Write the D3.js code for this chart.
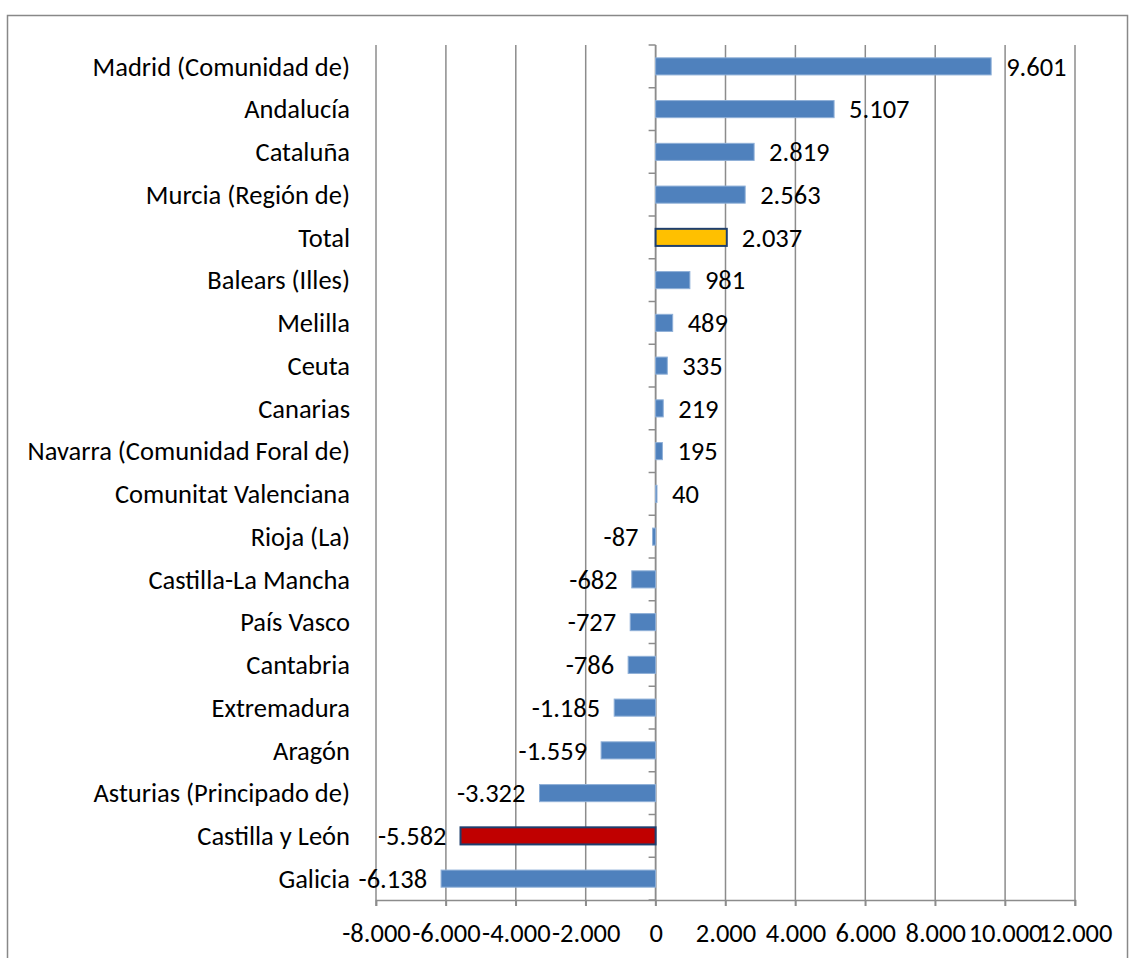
<!DOCTYPE html>
<html>
<head>
<meta charset="utf-8">
<script src="https://cdn.jsdelivr.net/npm/d3@7"></script>
<style>
  body { margin: 0; background: #fff; }
  text { font-family: Carlito, Lato, "Open Sans", sans-serif; fill: #000; }
</style>
</head>
<body>
<div class="canvas"></div>
<script>
const regions = [
  'Madrid (Comunidad de)', 'Andalucía', 'Cataluña', 'Murcia (Región de)', 'Total',
  'Balears (Illes)', 'Melilla', 'Ceuta', 'Canarias', 'Navarra (Comunidad Foral de)',
  'Comunitat Valenciana', 'Rioja (La)', 'Castilla-La Mancha', 'País Vasco', 'Cantabria',
  'Extremadura', 'Aragón', 'Asturias (Principado de)', 'Castilla y León', 'Galicia'
];
const values = [
  9601, 5107, 2819, 2563, 2037,
  981, 489, 335, 219, 195,
  40, -87, -682, -727, -786,
  -1185, -1559, -3322, -5582, -6138
];
const ticks = [-8000, -6000, -4000, -2000, 0, 2000, 4000, 6000, 8000, 10000, 12000];

const dims = { width: 1129, height: 958 };
const plot = { left: 376, right: 1075, top: 45, bottom: 900 };
const fontSize = '26.5px';

const svg = d3
  .select('.canvas')
  .append('svg')
  .attr('width', dims.width)
  .attr('height', dims.height);

// chart border
svg
  .append('rect')
  .attr('x', 7.5)
  .attr('y', 15.5)
  .attr('width', 1120)
  .attr('height', 960)
  .attr('fill', 'none')
  .attr('stroke', '#888')
  .attr('stroke-width', 1.5);

const x = d3.scaleLinear().domain([-8000, 12000]).range([plot.left, plot.right]);
const y = d3
  .scaleBand()
  .domain(regions)
  .range([plot.top, plot.bottom])
  .paddingInner(0.6)
  .paddingOuter(0.3);

const fmt = (v) => d3.format(',')(v).replace(/,/g, '.').replace('−', '-');

// vertical gridlines
svg
  .append('g')
  .selectAll('line')
  .data(ticks)
  .enter()
  .append('line')
  .attr('x1', (d) => x(d))
  .attr('x2', (d) => x(d))
  .attr('y1', plot.top)
  .attr('y2', plot.bottom + 6)
  .attr('stroke', '#8c8c8c')
  .attr('stroke-width', 1.5);

// bottom axis
const xAxis = svg
  .append('g')
  .attr('transform', `translate(0, ${plot.bottom})`)
  .call(d3.axisBottom(x).tickValues(ticks).tickSize(6).tickFormat(fmt));
xAxis.select('.domain').attr('stroke', '#8c8c8c').attr('stroke-width', 1.5);
xAxis.selectAll('.tick line').attr('stroke', '#8c8c8c').attr('stroke-width', 1.5);
xAxis
  .selectAll('.tick text')
  .attr('y', 23)
  .attr('dy', '0.71em')
  .style('font-size', fontSize)
  .style('font-family', 'Carlito, Lato, "Open Sans", sans-serif')
  .attr('fill', '#000');

// zero axis with category ticks
const bounds = d3.range(regions.length + 1).map((i) => plot.top + i * (plot.bottom - plot.top) / regions.length);
svg
  .append('line')
  .attr('x1', x(0))
  .attr('x2', x(0))
  .attr('y1', plot.top)
  .attr('y2', plot.bottom)
  .attr('stroke', '#8c8c8c')
  .attr('stroke-width', 1.5);
svg
  .append('g')
  .selectAll('line')
  .data(bounds)
  .enter()
  .append('line')
  .attr('x1', x(0) - 7)
  .attr('x2', x(0))
  .attr('y1', (d) => d)
  .attr('y2', (d) => d)
  .attr('stroke', '#8c8c8c')
  .attr('stroke-width', 1.5);

// category labels
svg
  .append('g')
  .selectAll('text')
  .data(regions)
  .enter()
  .append('text')
  .attr('x', 350)
  .attr('y', (d) => y(d) + y.bandwidth() / 2)
  .attr('dy', '0.35em')
  .attr('text-anchor', 'end')
  .style('font-size', fontSize)
  .text((d) => d);

const special = (name) => name === 'Total' || name === 'Castilla y León';
const fillOf = (name) => (name === 'Total' ? '#ffc000' : name === 'Castilla y León' ? '#c00000' : '#4f81bd');

// bars
svg
  .append('g')
  .selectAll('rect')
  .data(regions)
  .enter()
  .append('rect')
  .attr('x', (d, i) => x(Math.min(0, values[i])))
  .attr('y', (d) => y(d))
  .attr('width', (d, i) => Math.abs(x(values[i]) - x(0)))
  .attr('height', y.bandwidth())
  .attr('fill', (d) => fillOf(d))
  .attr('stroke', (d) => (special(d) ? '#1f3f6e' : '#8fb0d8'))
  .attr('stroke-width', (d) => (special(d) ? 2 : 1));

// value labels
svg
  .append('g')
  .selectAll('text')
  .data(regions)
  .enter()
  .append('text')
  .attr('x', (d, i) => (values[i] >= 0 ? x(values[i]) + 15 : x(values[i]) - 14))
  .attr('y', (d) => y(d) + y.bandwidth() / 2)
  .attr('dy', '0.35em')
  .attr('text-anchor', (d, i) => (values[i] >= 0 ? 'start' : 'end'))
  .style('font-size', fontSize)
  .text((d, i) => fmt(values[i]));
</script>
</body>
</html>
